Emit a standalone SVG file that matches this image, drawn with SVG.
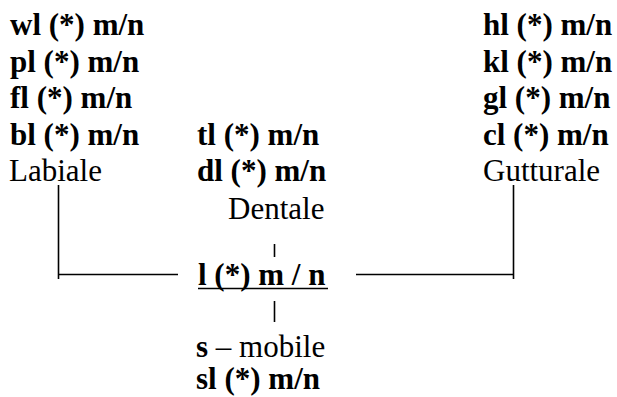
<svg xmlns="http://www.w3.org/2000/svg" width="617" height="397" viewBox="0 0 617 397">
<style>
text{font-family:"Liberation Serif","DejaVu Serif","Times New Roman",serif;font-size:31px;fill:#000}
.b{font-weight:bold}
.ln{stroke:#000;stroke-width:1.6;fill:none}
</style>
<rect width="617" height="397" fill="#fff"/>
<g id="labiale" font-family="Liberation Serif, serif">
<text class="b" x="10" y="35">wl (*) m/n</text>
<text class="b" x="10" y="71.5">pl (*) m/n</text>
<text class="b" x="10" y="108">fl (*) m/n</text>
<text class="b" x="10" y="144.5">bl (*) m/n</text>
<text x="9" y="181">Labiale</text>
</g>
<g id="dentale">
<text class="b" x="197" y="144.5">tl (*) m/n</text>
<text class="b" x="197" y="181">dl (*) m/n</text>
<text x="228" y="219">Dentale</text>
</g>
<g id="gutturale">
<text class="b" x="483" y="35">hl (*) m/n</text>
<text class="b" x="483" y="71.5">kl (*) m/n</text>
<text class="b" x="483" y="108">gl (*) m/n</text>
<text class="b" x="483" y="144.5">cl (*) m/n</text>
<text x="483" y="181">Gutturale</text>
</g>
<g id="root">
<text class="b" x="198" y="285">l (*) m / n</text>
<line class="ln" x1="198" y1="288.5" x2="328" y2="288.5"/>
</g>
<g id="mobile">
<text x="196" y="357"><tspan class="b">s</tspan> – mobile</text>
<text class="b" x="196" y="389">sl (*) m/n</text>
</g>
<g id="connectors">
<polyline class="ln" points="58.5,185 58.5,279"/>
<line class="ln" x1="58.5" y1="274.5" x2="178" y2="274.5"/>
<polyline class="ln" points="513.5,185 513.5,279"/>
<line class="ln" x1="356" y1="274.5" x2="513.5" y2="274.5"/>
<line class="ln" x1="274.5" y1="244" x2="274.5" y2="257"/>
<line class="ln" x1="274.5" y1="301" x2="274.5" y2="322"/>
</g>
</svg>
